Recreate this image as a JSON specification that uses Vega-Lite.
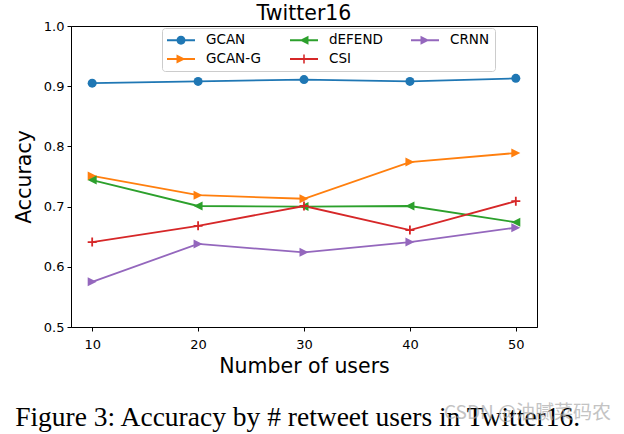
{
  "$schema": "https://vega.github.io/schema/vega-lite/v6.json",
  "width": 466,
  "height": 301,
  "autosize": {"type": "none"},
  "padding": {"left": 71, "top": 26, "right": 87, "bottom": 107},
  "background": "white",
  "title": {"text": "Twitter16", "font": "DejaVu Sans", "fontSize": 20.5, "fontWeight": "normal", "color": "black", "offset": -4, "anchor": "middle", "frame": "group"},
  "data": {"values": [
    {"model": "GCAN", "users": 10, "acc": 0.905},
    {"model": "GCAN", "users": 20, "acc": 0.908},
    {"model": "GCAN", "users": 30, "acc": 0.911},
    {"model": "GCAN", "users": 40, "acc": 0.908},
    {"model": "GCAN", "users": 50, "acc": 0.913},
    {"model": "GCAN-G", "users": 10, "acc": 0.751},
    {"model": "GCAN-G", "users": 20, "acc": 0.719},
    {"model": "GCAN-G", "users": 30, "acc": 0.713},
    {"model": "GCAN-G", "users": 40, "acc": 0.774},
    {"model": "GCAN-G", "users": 50, "acc": 0.789},
    {"model": "dEFEND", "users": 10, "acc": 0.744},
    {"model": "dEFEND", "users": 20, "acc": 0.701},
    {"model": "dEFEND", "users": 30, "acc": 0.700},
    {"model": "dEFEND", "users": 40, "acc": 0.701},
    {"model": "dEFEND", "users": 50, "acc": 0.674},
    {"model": "CSI", "users": 10, "acc": 0.641},
    {"model": "CSI", "users": 20, "acc": 0.668},
    {"model": "CSI", "users": 30, "acc": 0.701},
    {"model": "CSI", "users": 40, "acc": 0.661},
    {"model": "CSI", "users": 50, "acc": 0.709},
    {"model": "CRNN", "users": 10, "acc": 0.575},
    {"model": "CRNN", "users": 20, "acc": 0.638},
    {"model": "CRNN", "users": 30, "acc": 0.624},
    {"model": "CRNN", "users": 40, "acc": 0.641},
    {"model": "CRNN", "users": 50, "acc": 0.665}
  ]},
  "layer": [
    {"mark": {"type": "line", "strokeWidth": 1.8},
      "encoding": {
        "x": {"field": "users", "type": "quantitative", "scale": {"domain": [8, 52], "nice": false, "zero": false},
          "axis": {"title": "Number of users", "values": [10, 20, 30, 40, 50], "grid": false, "titlePadding": 5, "labelPadding": 7}},
        "y": {"field": "acc", "type": "quantitative", "scale": {"domain": [0.5, 1.0], "nice": false, "zero": false},
          "axis": {"title": "Accuracy", "values": [0.5, 0.6, 0.7, 0.8, 0.9, 1.0], "format": ".1f", "grid": false, "titlePadding": 9, "labelPadding": 3}},
        "color": {"field": "model", "type": "nominal",
          "scale": {"domain": ["GCAN", "GCAN-G", "dEFEND", "CSI", "CRNN"], "range": ["#1f77b4", "#ff7f0e", "#2ca02c", "#d62728", "#9467bd"]},
          "legend": {
            "orient": "none", "legendX": 91, "legendY": 2, "columns": 3, "title": null,
            "symbolSize": 196, "labelFontSize": 13.5, "labelFont": "DejaVu Sans", "labelColor": "black",
            "labelOffset": 25, "columnPadding": 28, "rowPadding": 5, "padding": 5,
            "strokeColor": "#cccccc", "fillColor": "rgba(255,255,255,0.8)", "cornerRadius": 3,
            "encode": {"symbols": {"update": {
              "shape": {"signal": "datum.value === 'GCAN' ? 'M-1,-0.13H3V0.13H-1ZM1.64,0A0.64,0.64,0,1,1,0.36,0A0.64,0.64,0,1,1,1.64,0Z' : datum.value === 'dEFEND' ? 'M-1,-0.13H3V0.13H-1ZM0.36,0L1.64,-0.64L1.64,0.64Z' : datum.value === 'CSI' ? 'M-1,-0.13H3V0.13H-1ZM0.36,-0.11H0.89V-0.64H1.11V-0.11H1.64V0.11H1.11V0.64H0.89V0.11H0.36Z' : 'M-1,-0.13H3V0.13H-1ZM1.64,0L0.36,0.64L0.36,-0.64Z'"},
              "fill": {"scale": "color", "field": "value"},
              "stroke": {"value": "transparent"},
              "strokeWidth": {"value": 0},
              "opacity": {"value": 1}
            }}}
          }}
      }},
    {"transform": [{"filter": "datum.model === 'GCAN'"}],
      "mark": {"type": "point", "filled": true, "size": 81, "opacity": 1, "shape": "circle", "color": "#1f77b4"},
      "encoding": {"x": {"field": "users", "type": "quantitative"}, "y": {"field": "acc", "type": "quantitative"}}},
    {"transform": [{"filter": "datum.model === 'GCAN-G'"}],
      "mark": {"type": "point", "filled": true, "size": 81, "opacity": 1, "shape": "M1,0L-1,1L-1,-1Z", "color": "#ff7f0e"},
      "encoding": {"x": {"field": "users", "type": "quantitative"}, "y": {"field": "acc", "type": "quantitative"}}},
    {"transform": [{"filter": "datum.model === 'dEFEND'"}],
      "mark": {"type": "point", "filled": true, "size": 81, "opacity": 1, "shape": "M-1,0L1,-1L1,1Z", "color": "#2ca02c"},
      "encoding": {"x": {"field": "users", "type": "quantitative"}, "y": {"field": "acc", "type": "quantitative"}}},
    {"transform": [{"filter": "datum.model === 'CSI'"}],
      "mark": {"type": "point", "filled": true, "size": 81, "opacity": 1, "shape": "M-1,-0.2H-0.2V-1H0.2V-0.2H1V0.2H0.2V1H-0.2V0.2H-1Z", "color": "#d62728"},
      "encoding": {"x": {"field": "users", "type": "quantitative"}, "y": {"field": "acc", "type": "quantitative"}}},
    {"transform": [{"filter": "datum.model === 'CRNN'"}],
      "mark": {"type": "point", "filled": true, "size": 81, "opacity": 1, "shape": "M1,0L-1,1L-1,-1Z", "color": "#9467bd"},
      "encoding": {"x": {"field": "users", "type": "quantitative"}, "y": {"field": "acc", "type": "quantitative"}}},
    {"mark": {"type": "text", "font": "Liberation Serif", "fontSize": 27.5, "align": "center", "baseline": "middle", "clip": false},
      "data": {"values": [{"label": "Figure 3: Accuracy by # retweet users in Twitter16."}]},
      "encoding": {"x": {"datum": 29.4, "type": "quantitative"}, "y": {"datum": 0.349, "type": "quantitative"}, "text": {"field": "label"}, "color": {"value": "black"}}},
    {"mark": {"type": "text", "font": "Noto Sans CJK SC", "fontSize": 19, "opacity": 0.7, "align": "center", "baseline": "middle", "clip": false},
      "data": {"values": [{"label": "CSDN @油腻菜码农"}]},
      "encoding": {"x": {"datum": 51.1, "type": "quantitative"}, "y": {"datum": 0.357, "type": "quantitative"}, "text": {"field": "label"}, "color": {"value": "#aaaaaa"}}}
  ],
  "config": {
    "view": {"stroke": "black", "strokeWidth": 1},
    "axis": {"domainColor": "black", "tickColor": "black", "tickSize": 4, "labelColor": "black", "titleColor": "black",
      "labelFont": "DejaVu Sans", "labelFontSize": 13, "titleFont": "DejaVu Sans", "titleFontSize": 20.5, "titleFontWeight": "normal"}
  }
}
